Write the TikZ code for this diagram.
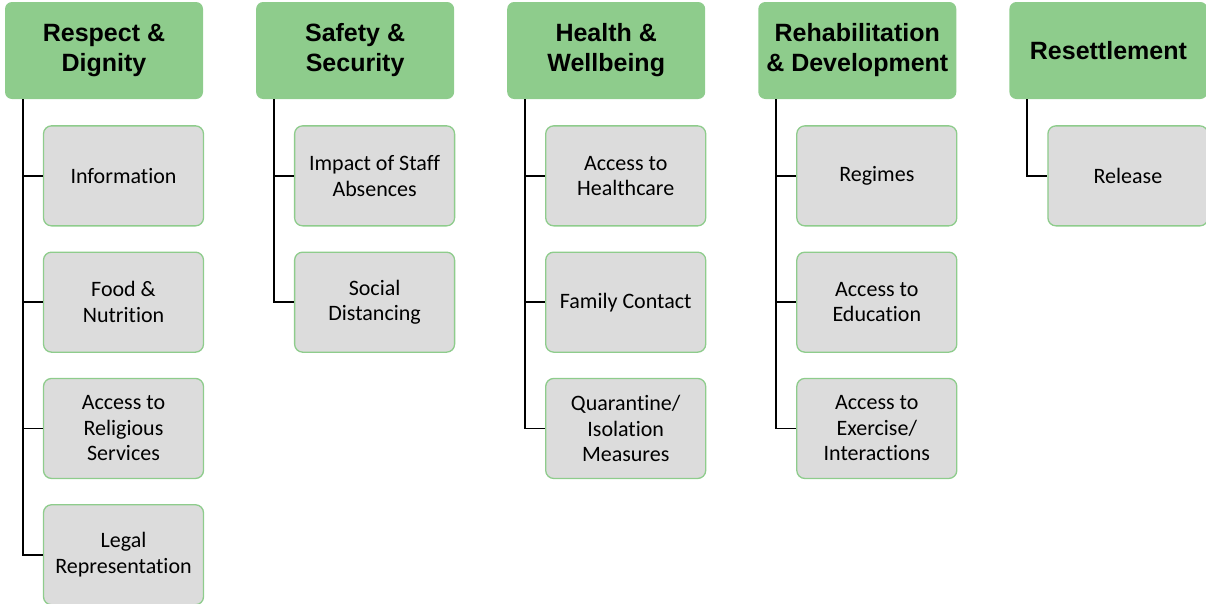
\documentclass[tikz,border=0pt]{standalone}
\usepackage{fontspec}
\setmainfont[Ligatures=NoCommon]{Carlito}
\newfontfamily\headfont{Liberation Sans}
\usetikzlibrary{positioning}

\definecolor{hdgreen}{RGB}{142,204,140}
\definecolor{subgray}{RGB}{220,220,220}

\tikzset{
  area/.style={draw=none, fill=hdgreen, rounded corners=7pt, minimum width=198pt,
    minimum height=97pt, align=center, inner sep=1pt,
    font=\headfont\bfseries\fontsize{25}{30}\selectfont},
  topic/.style={draw=hdgreen, line width=1.3pt, fill=subgray, rounded corners=8pt,
    minimum width=160pt, minimum height=100pt, align=center, inner sep=2pt,
    font=\fontsize{22}{25.5}\selectfont},
  link/.style={draw=black, line width=1.9pt},
}

\begin{document}
\begin{tikzpicture}[x=1pt, y=1pt, node distance=25pt]
  \useasboundingbox (0,0) rectangle (1206,-603);

  \node[area] (resp) at (104,-50.5) {Respect \&\\Dignity};
  \node[area, right=52.7pt of resp] (safe) {Safety \&\\Security};
  \node[area, right=52.7pt of safe] (heal) {Health \&\\Wellbeing};
  \node[area, right=52.7pt of heal] (reha) {Rehabilitation\\\& Development};
  \node[area, right=52.7pt of reha] (sett) {Resettlement};

  % Respect & Dignity
  \node[topic, below=26pt of resp, xshift=19.5pt] (info) {Information};
  \node[topic, below=of info] (food) {Food \&\\Nutrition};
  \node[topic, below=of food] (relig) {Access to\\Religious\\Services};
  \node[topic, below=of relig] (legal) {Legal\\Representation};

  % Safety & Security
  \node[topic, below=26pt of safe, xshift=19.5pt] (staff) {Impact of Staff\\Absences};
  \node[topic, below=of staff] (dist) {Social\\Distancing};

  % Health & Wellbeing
  \node[topic, below=26pt of heal, xshift=19.5pt] (care) {Access to\\Healthcare};
  \node[topic, below=of care] (family) {Family Contact};
  \node[topic, below=of family] (quar) {Quarantine/\\Isolation\\Measures};

  % Rehabilitation & Development
  \node[topic, below=26pt of reha, xshift=19.5pt] (regime) {Regimes};
  \node[topic, below=of regime] (edu) {Access to\\Education};
  \node[topic, below=of edu] (exer) {Access to\\Exercise/\\Interactions};

  % Resettlement
  \node[topic, below=26pt of sett, xshift=19.5pt] (rel) {Release};

  \foreach \hd/\kids in {resp/{info,food,relig,legal}, safe/{staff,dist},
      heal/{care,family,quar}, reha/{regime,edu,exer}, sett/{rel}}
    \foreach \k in \kids
      \draw[link] ([xshift=18pt]\hd.south west) |- (\k.west);
\end{tikzpicture}
\end{document}
